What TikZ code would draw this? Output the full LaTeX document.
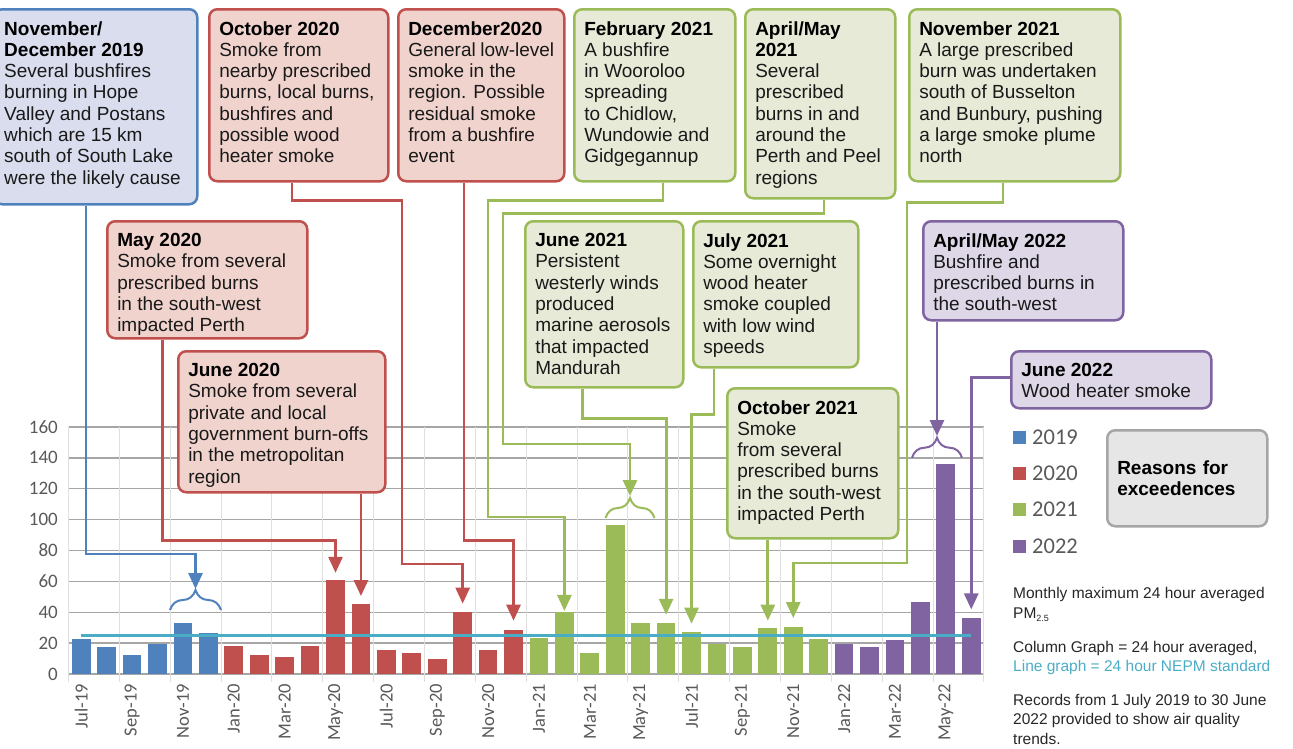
\documentclass[tikz,border=0pt]{standalone}
\usepackage{fontspec}
\setmainfont{Liberation Sans}
\newfontfamily\calib{Carlito}
\usepackage{tikz}
\usetikzlibrary{arrows.meta, positioning, decorations.pathreplacing}

\definecolor{c19}{HTML}{4F81BD}
\definecolor{c20}{HTML}{C0504D}
\definecolor{c21}{HTML}{9BBB59}
\definecolor{c22}{HTML}{8064A2}
\definecolor{f19}{HTML}{D9DDEE}
\definecolor{f20}{HTML}{F0D3CD}
\definecolor{f21}{HTML}{E7EAD7}
\definecolor{f22}{HTML}{DED7E7}
\definecolor{nepm}{HTML}{4BACC6}
\definecolor{axisgray}{HTML}{595959}
\definecolor{whybox}{HTML}{E6E6E6}
\definecolor{whyline}{HTML}{A6A6A6}

\tikzstyle{reason} = [rectangle, rounded corners=8pt, line width=2.5pt, anchor=north west, inner xsep=10pt, inner ysep=12pt, text=black!90, font=\fontsize{19}{21.3}\selectfont]
\tikzstyle{reason19} = [reason, draw=c19, fill=f19]
\tikzstyle{reason20} = [reason, draw=c20, fill=f20]
\tikzstyle{reason21} = [reason, draw=c21, fill=f21]
\tikzstyle{reason22} = [reason, draw=c22, fill=f22]
\tikzstyle{whyreason} = [rectangle, rounded corners=8pt, line width=2.5pt, draw=whyline, fill=whybox, anchor=north west, minimum height=96pt, text width=140pt, inner xsep=10pt, align=left, font=\bfseries\fontsize{19}{21.3}\selectfont]
\tikzstyle{con} = [line width=2.8pt, -{Triangle[length=16pt,width=14pt]}]
\tikzstyle{con19} = [con, c19]
\tikzstyle{con20} = [con, c20]
\tikzstyle{con21} = [con, c21]
\tikzstyle{con22} = [con, c22]
\tikzstyle{curly} = [line width=2pt, decorate, decoration={brace, amplitude=20pt}]
\tikzstyle{ylab} = [anchor=east, inner sep=0pt, text=axisgray, font=\calib\fontsize{19}{19}\selectfont]
\tikzstyle{xlab} = [rotate=90, anchor=east, inner sep=0pt, text=axisgray, font=\calib\fontsize{18.5}{18.5}\selectfont]
\tikzstyle{leg} = [anchor=west, inner sep=0pt, text=axisgray, font=\calib\fontsize{22.5}{22.5}\selectfont]
\tikzstyle{note} = [anchor=north west, inner sep=0pt, align=left, text=black!85, font=\fontsize{15.5}{19.5}\selectfont]

\newcommand{\cause}[4]{\begin{minipage}[t][#2pt][t]{#1pt}\textbf{\color{black}#3}\\#4\end{minipage}}

\begin{document}
\begin{tikzpicture}[x=1pt, y=-1pt]
	\useasboundingbox (0,0) rectangle (1293,748);

	% grid
	\foreach \k in {0,...,8}
		\draw[gray!70, line width=1.3pt] (68.5,{674-\k*30.875}) -- (984,{674-\k*30.875});
	\foreach \j in {0,...,18}
		\draw[gray!25, line width=1pt] ({68.5+\j*50.86},427) -- ({68.5+\j*50.86},682);
	\foreach \k in {0,...,8}
		\node[ylab] (yl\k) at (58,{674-\k*30.875}) {\pgfmathprint{int(\k*20)}};

	% columns
	\foreach \v/\c [count=\i from 0] in {23/c19,17.5/c19,12.5/c19,19.6/c19,32.8/c19,26.3/c19,
		18.3/c20,12.1/c20,10.8/c20,18.1/c20,61/c20,45.3/c20,15.7/c20,13.8/c20,9.5/c20,40.4/c20,15.5/c20,28.7/c20,
		23.3/c21,40.2/c21,13.6/c21,96.5/c21,32.8/c21,33.2/c21,27.4/c21,19.2/c21,17.7/c21,30/c21,30.4/c21,22.7/c21,
		19.2/c22,17.7/c22,22/c22,46.4/c22,136/c22,36/c22}{
		\fill[\c] ({68.5+(\i+0.5)*25.43-9.35},674) rectangle ++(18.7,{-\v*1.544});
		\coordinate (b\i) at ({68.5+(\i+0.5)*25.43},{674-\v*1.544});
	}
	\foreach \m [count=\j from 0] in {Jul-19,Sep-19,Nov-19,Jan-20,Mar-20,May-20,Jul-20,Sep-20,Nov-20,
		Jan-21,Mar-21,May-21,Jul-21,Sep-21,Nov-21,Jan-22,Mar-22,May-22}
		\node[xlab] (xl\j) at ({68.5+(2*\j+0.5)*25.43},684) {\m};

	% standard
	\draw[nepm, line width=3pt] (b0 |- 0,635.4) -- (b35 |- 0,635.4);

	% braces
	\draw[curly, c19] (170,610) -- (221,610);
	\draw[curly, c21] (605.5,518) -- (654.5,518);
	\draw[curly, c22] (912,457.7) -- (962,457.7);
	\coordinate (tipA) at (195.5,589);
	\coordinate (tipB) at (630,496);
	\coordinate (tipC) at (937,436);

	% legend and notes
	\foreach \y/\c/\n in {437/c19/2019,473/c20/2020,509/c21/2021,546/c22/2022}{
		\fill[\c] (1013,\y-6.5) rectangle ++(13,13);
		\node[leg] (lg\n) at (1032,\y) {\n};
	}
	\node[whyreason] (why) at (1106,429) {Reasons for\\exceedences};
	\node[note] (pm) at (1013,587.5) {Monthly maximum 24 hour averaged\\PM\raisebox{-3pt}{\fontsize{9}{9}\selectfont 2.5}};
	\node[note] (graph) at (1013,641) {Column Graph = 24 hour averaged,\\\textcolor{nepm}{Line graph = 24 hour NEPM standard}};
	\node[note] (recs) at (1013,694) {Records from 1 July 2019 to 30 June\\2022 provided to show air quality\\trends.};

	% boxes
	\node[reason19] (nd19) at (-7,8) {\cause{183}{171}{November/\\December 2019}{Several bushfires\\burning in Hope\\Valley and Postans\\which are 15 km\\south of South Lake\\were the likely cause}};
	\node[reason20] (oct20) at (208,8) {\cause{159}{148}{October 2020}{Smoke from\\nearby prescribed\\burns, local burns,\\bushfires and\\possible wood\\heater smoke}};
	\node[reason20] (dec20) at (397,8) {\cause{146}{148}{December2020}{General low-level\\smoke in the\\region. Possible\\residual smoke\\from a bushfire\\event}};
	\node[reason21] (feb21) at (573,8) {\cause{141}{148}{February 2021}{A bushfire\\in Wooroloo\\spreading\\to Chidlow,\\Wundowie and\\Gidgegannup}};
	\node[reason21] (am21) at (744,8) {\cause{130}{165}{April/May\\2021}{Several\\prescribed\\burns in and\\around the\\Perth and Peel\\regions}};
	\node[reason21] (nov21) at (908,8) {\cause{191}{148}{November 2021}{A large prescribed\\burn was undertaken\\south of Busselton\\and Bunbury, pushing\\a large smoke plume\\north}};
	\node[reason20] (may20) at (106,220) {\cause{180}{93}{May 2020}{Smoke from several\\prescribed burns\\in the south-west\\impacted Perth}};
	\node[reason20] (jun20) at (177,350) {\cause{187}{117}{June 2020}{Smoke from several\\private and local\\government burn-offs\\in the metropolitan\\region}};
	\node[reason21] (jun21) at (524,220) {\cause{138}{142}{June 2021}{Persistent\\westerly winds\\produced\\marine aerosols\\that impacted\\Mandurah}};
	\node[reason21] (jul21) at (692,220) {\cause{145}{122}{July 2021}{Some overnight\\wood heater\\smoke coupled\\with low wind\\speeds}};
	\node[reason21] (oct21) at (726,387) {\cause{151}{126}{October 2021}{Smoke\\from several\\prescribed burns\\in the south-west\\impacted Perth}};
	\node[reason22] (am22) at (922,220) {\cause{180}{75}{April/May 2022}{Bushfire and\\prescribed burns in\\the south-west}};
	\node[reason22] (jun22) at (1010,350) {\cause{180}{33}{June 2022}{Wood heater smoke}};

	% connectors
	\draw[con19] ([xshift=93pt]nd19.south west) |- (195.5,554) -- (tipA);
	\draw[con20] ([xshift=56.5pt]may20.south west) -- ++(0,201) -| ([yshift=7pt]b10);
	\draw[con20] (jun20.south -| b11) -- ([yshift=8pt]b11);
	\draw[con20] ([xshift=84pt]oct20.south west) -- ++(0,18) -| (402,564) -| ([yshift=8pt]b15);
	\draw[con20] ([xshift=67pt]dec20.south west) -- ++(0,358) -| ([yshift=9pt]b17);
	\draw[con21] ([xshift=90pt]feb21.south west) -- ++(0,18) -| (488,517) -| ([yshift=1pt]b19);
	\draw[con21] ([xshift=80pt]am21.south west) -- ++(0,14) -| (503,444) -| (tipB);
	\draw[con21] ([xshift=58.7pt]jun21.south west) -- ++(0,30) -| ([yshift=8pt]b23);
	\draw[con21] ([xshift=22pt]jul21.south west) -- ++(0,46) -| ([yshift=8pt]b24);
	\draw[con21] (oct21.south -| b27) -- ([yshift=7pt]b27);
	\draw[con21] ([xshift=95pt]nov21.south west) -- ++(0,20) -| (907,563) -| ([yshift=9pt]b28);
	\draw[con22] (am22.south -| tipC) -- (tipC);
	\draw[con22] ([yshift=2.5pt]jun22.west) -| ([yshift=9pt]b35);
\end{tikzpicture}
\end{document}
